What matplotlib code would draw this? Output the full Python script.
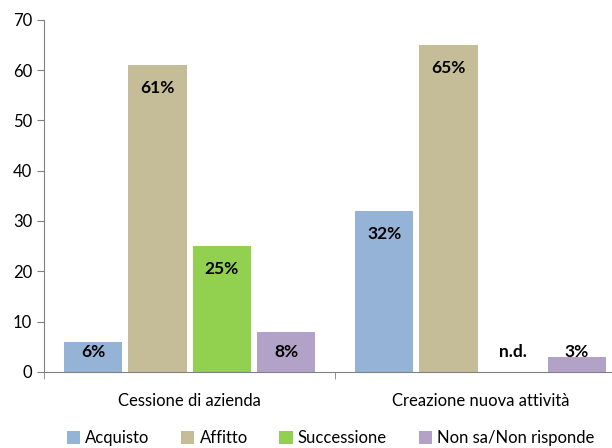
import matplotlib.pyplot as plt
import numpy as np

plt.rcParams['font.family'] = ['Lato', 'DejaVu Sans']

categories = ['Cessione di azienda', 'Creazione nuova attività']
series = ['Acquisto', 'Affitto', 'Successione', 'Non sa/Non risponde']
values = [
    [6, 32],
    [61, 65],
    [25, np.nan],
    [8, 3],
]
colors = ['#95B3D7', '#C4BD97', '#92D050', '#B3A2C7']

fig = plt.figure(figsize=(6.12, 4.48), dpi=100)
ax = fig.add_axes([0.072, 0.17, 0.951, 0.786])

x = np.arange(len(categories))
width = 0.2
step = 0.221
handles = []
for i, (name, vals, c) in enumerate(zip(series, values, colors)):
    pos = x + (i - 1.5) * step
    h = ax.bar(pos, np.nan_to_num(vals), width, color=c, label=name)
    handles.append(h)
    for p, v in zip(pos, vals):
        if np.isnan(v):
            txt, ty = 'n.d.', 4
        else:
            txt, ty = f'{v:.0f}%', max(v - 4.5, 4)
        ax.text(p, ty, txt, ha='center', va='center', fontsize=12.5,
                fontweight='bold', color='black')

ax.set_xlim(-0.5, 1.5)
ax.set_ylim(0, 70)
ax.set_yticks(range(0, 71, 10))
ax.set_xticks(x)
ax.set_xticklabels(categories, fontsize=12)
ax.set_xticks([-0.5, 0.5, 1.5], minor=True)
ax.tick_params(axis='x', which='major', length=0, pad=15)
ax.tick_params(axis='x', which='minor', length=5, color='#808080')
ax.tick_params(axis='y', length=5, color='#808080', labelsize=12)

for s in ['top', 'right']:
    ax.spines[s].set_visible(False)
ax.spines['left'].set_color('#808080')
ax.spines['bottom'].set_color('#808080')

fig.legend(handles=handles, loc='center', bbox_to_anchor=(0.54, 0.022), ncol=4,
           frameon=False, fontsize=12, handlelength=0.8, handleheight=0.8,
           handletextpad=0.3, columnspacing=1.9)

fig.savefig('out.png', dpi=100)
